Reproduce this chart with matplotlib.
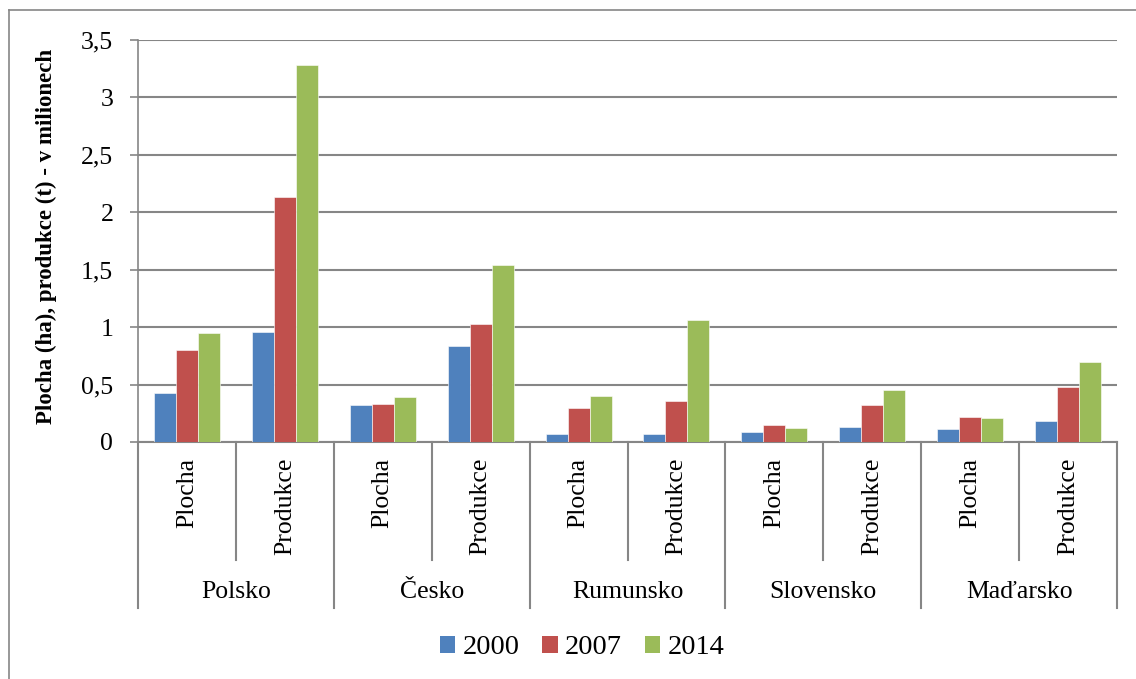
"""Plocha a produkce - sloupcový graf se dvouúrovňovou osou x"""
import numpy as np
import matplotlib
matplotlib.use('Agg')
import matplotlib.pyplot as plt
from matplotlib.patches import Patch
from matplotlib.lines import Line2D

plt.rcParams['font.family'] = ['Liberation Serif', 'DejaVu Serif']

# data (miliony ha / t)
zeme = ['Polsko', 'Česko', 'Rumunsko', 'Slovensko', 'Maďarsko']
ukazatele = ['Plocha', 'Produkce']
roky = ['2000', '2007', '2014']
hodnoty_2000 = [0.43, 0.96, 0.32, 0.84, 0.07, 0.07, 0.09, 0.13, 0.11, 0.18]
hodnoty_2007 = [0.80, 2.13, 0.33, 1.03, 0.30, 0.36, 0.15, 0.32, 0.22, 0.48]
hodnoty_2014 = [0.95, 3.28, 0.39, 1.54, 0.40, 1.06, 0.12, 0.45, 0.21, 0.70]
yticks = [0, 0.5, 1, 1.5, 2, 2.5, 3, 3.5]
ytick_labels = ['0', '0,5', '1', '1,5', '2', '2,5', '3', '3,5']

barvy = ['#4F81BD', '#C0504D', '#9BBB59']
seda = '#868686'

W, H = 1136, 679
fig = plt.figure(figsize=(W / 100, H / 100), dpi=100)

# vnější rámeček grafu
fig.add_artist(Line2D([9 / W, 9 / W], [0, 1 - 10 / H], color=seda, lw=1.2))
fig.add_artist(Line2D([9 / W, 1], [1 - 10 / H, 1 - 10 / H], color=seda, lw=1.2))

left, right, top, bottom = 138, 1117, 40, 442
ax = fig.add_axes([left / W, 1 - bottom / H, (right - left) / W, (bottom - top) / H])

x = np.arange(len(hodnoty_2000))
sirka = 0.225
for i, (vals, barva, rok) in enumerate(zip([hodnoty_2000, hodnoty_2007, hodnoty_2014], barvy, roky)):
    ax.bar(x + (i - 1) * sirka, vals, width=sirka, color=barva,
           edgecolor='white', linewidth=0.4, zorder=3, label=rok)

ax.set_xlim(-0.5, len(x) - 0.5)
ax.set_ylim(0, 3.5)
ax.set_yticks(yticks)
ax.set_yticklabels(ytick_labels, fontsize=18.5)
ax.yaxis.grid(True, color=seda, linewidth=1.5, zorder=0)
# délky v bodech (1 px = 0,72 pt)
ax.tick_params(axis='y', length=5.8, width=1.2, color=seda, pad=12)
ax.set_xticks([])
for side in ['top', 'right']:
    ax.spines[side].set_visible(False)
ax.spines['left'].set_color(seda)
ax.spines['left'].set_linewidth(1.2)
ax.spines['bottom'].set_color(seda)
ax.spines['bottom'].set_linewidth(1.5)

# dvouúrovňová osa x
tr = ax.get_xaxis_transform()
px = 1 / (bottom - top)  # jeden pixel v jednotkách osy
y_sub = -(560 - bottom) * px
y_grp = -(608 - bottom) * px
for b in np.arange(-0.5, len(x), 1.0):
    konec = y_grp if int(b + 0.5) % 2 == 0 else y_sub
    ax.plot([b, b], [0, konec], transform=tr, color=seda, lw=1.5, clip_on=False)

for i in x:
    ax.text(i, -(458 - bottom) * px, ukazatele[i % 2], transform=tr, rotation=90,
            ha='center', va='top', fontsize=18.5)
for j, nazev in enumerate(zeme):
    ax.text(2 * j + 0.5, -(592 - bottom) * px, nazev, transform=tr,
            ha='center', va='center', fontsize=18.5)

fig.text(46 / W, 1 - 236 / H, 'Plocha (ha), produkce (t) - v milionech',
         rotation=90, ha='center', va='center', fontsize=16.5, fontweight='bold')

handles = [Patch(facecolor=c, label=r) for c, r in zip(barvy, roky)]
fig.legend(handles=handles, loc='center', bbox_to_anchor=(582 / W, 1 - 648 / H),
           ncol=3, frameon=False, fontsize=20.5, handlelength=0.55, handleheight=0.55,
           handletextpad=0.25, columnspacing=0.8)

plt.savefig('out.png', dpi=100)
